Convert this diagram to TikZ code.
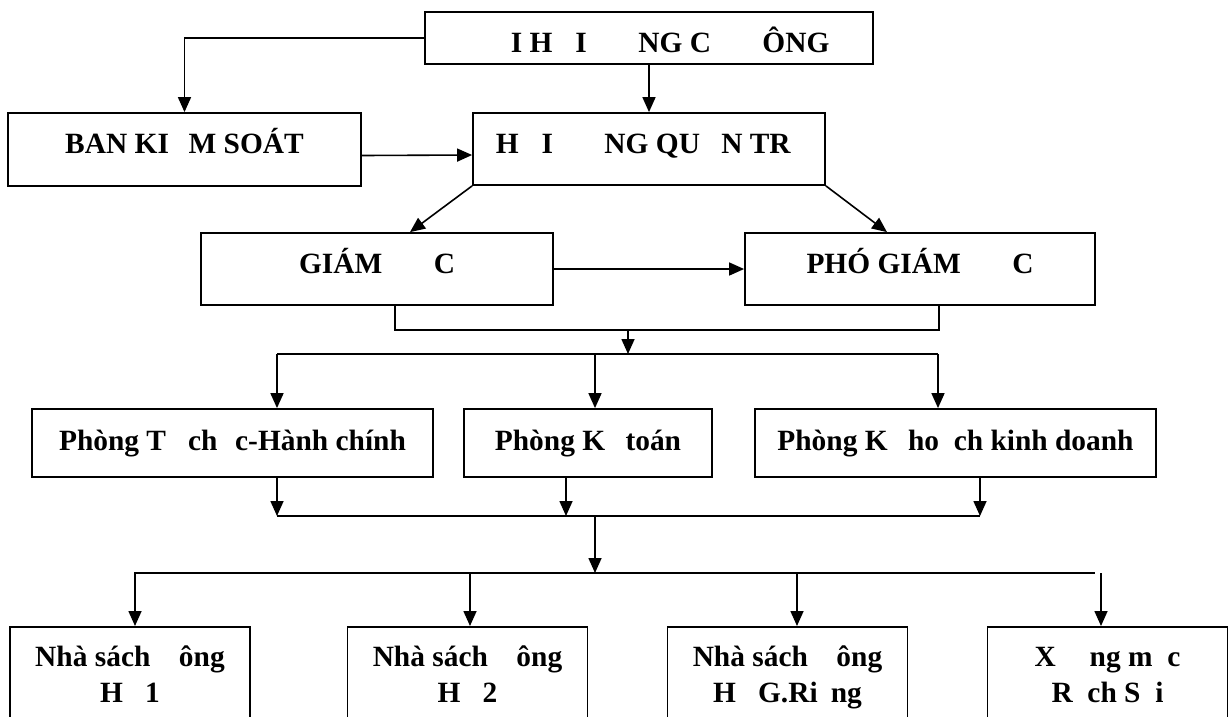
\documentclass[tikz,border=0pt]{standalone}
\usepackage{fontspec}
\setmainfont{Liberation Serif}
\usetikzlibrary{arrows.meta}
\newcommand{\deuxlignes}[2]{\begin{tabular}[t]{@{}c@{}}#1\\#2\end{tabular}}
\begin{document}
\begin{tikzpicture}[x=1pt,y=-1pt]
            \tikzstyle{cadre}=[rectangle,draw,line width=1.8pt,inner sep=2pt,
                font=\bfseries\fontsize{29.4}{36}\selectfont,text height=20pt,text depth=12pt]
            \tikzstyle{bas}=[cadre,anchor=north,inner ysep=20pt,text height=20pt,text depth=80pt,minimum width=240]
            \tikzstyle{fleche}=[-{Triangle[length=15pt,width=13pt]},line width=1.6pt]
            \tikzstyle{bus}=[line width=2.6pt]
            \useasboundingbox (0,0) rectangle (1229,716);
            \node[cadre,minimum width=448,minimum height=52,text height=28pt,text depth=0pt] (dhcd) at (649,38) {\phantom{ĐẠ}I H\phantom{Ộ}I \phantom{ĐỒ}NG C\phantom{Ổ} \phantom{Đ}ÔNG};
            \node[cadre,minimum width=353,minimum height=73] (bks) at (184.5,149.5) {BAN KI\phantom{Ể}M SOÁT};
            \node[cadre,minimum width=352,minimum height=72] (hdqt) at (649,149) {H\phantom{Ộ}I \phantom{ĐỒ}NG QU\phantom{Ả}N TR\phantom{Ị}};
            \node[cadre,minimum width=352,minimum height=72] (gd) at (377,269) {GIÁM \phantom{ĐỐ}C};
            \node[cadre,minimum width=350,minimum height=72] (pgd) at (920,269) {PHÓ GIÁM \phantom{ĐỐ}C};
            \node[cadre,minimum width=401,minimum height=68,text depth=6pt] (tchc) at (232.5,443) {Phòng T\phantom{ổ} ch\phantom{ứ}c-Hành chính};
            \node[cadre,minimum width=248,minimum height=68,text depth=6pt] (kt) at (588,443) {Phòng K\phantom{ế} toán};
            \node[cadre,minimum width=401,minimum height=68,text depth=6pt] (khkd) at (955.5,443) {Phòng K\phantom{ế} ho\phantom{ạ}ch kinh doanh};
            \node[bas] (nsdh1) at (130,626) {\deuxlignes{Nhà sách \phantom{Đ}ông}{H\phantom{ồ} 1}};
            \node[bas] (nsdh2) at (467.5,626) {\deuxlignes{Nhà sách \phantom{Đ}ông}{H\phantom{ồ} 2}};
            \node[bas] (nsdh3) at (787.5,626) {\deuxlignes{Nhà sách \phantom{Đ}ông}{H\phantom{ồ} G.Ri\phantom{ề}ng}};
            \node[bas] (xuong) at (1107.5,626) {\deuxlignes{X\phantom{ưở}ng m\phantom{ộ}c}{R\phantom{ạ}ch S\phantom{ỏ}i}};
            % points des lignes de liaison
            \coordinate (b1) at (628,330);
            \coordinate (b2) at (628,354);
            \coordinate (b2g) at (277,354);
            \coordinate (b2m) at (595,354);
            \coordinate (b2d) at (938,354);
            \coordinate (c3g) at (277,516);
            \coordinate (c3m) at (566,516);
            \coordinate (c3d) at (980,516);
            \coordinate (c3) at (595,516);
            \coordinate (b3) at (595,573);
            \coordinate (b3g) at (134,573);
            \coordinate (b3d) at (1095,573);
            \draw[fleche] (dhcd.west) -| (bks.north);
            \draw[fleche] (dhcd.south) -- (hdqt.north);
            \draw[fleche] ([yshift=-6pt]bks.east) -- ([yshift=-6pt]hdqt.west);
            \draw[fleche] (hdqt.south west) -- ([xshift=33pt]gd.north);
            \draw[fleche] (hdqt.south east) -- ([xshift=-33pt]pgd.north);
            \draw[fleche] (gd.east) -- (pgd.west);
            \draw[bus] ([xshift=18pt]gd.south) |- (b1) -| ([xshift=19pt]pgd.south);
            \draw[fleche] (b1) -- (b2);
            \draw[bus] (b2g) -- (b2d);
            \draw[fleche] (b2g) -- (b2g |- tchc.north);
            \draw[fleche] (b2m) -- (b2m |- kt.north);
            \draw[fleche] (b2d) -- (b2d |- khkd.north);
            \draw[fleche] (c3g |- tchc.south) -- (c3g);
            \draw[fleche] (c3m |- kt.south) -- (c3m);
            \draw[fleche] (c3d |- khkd.south) -- (c3d);
            \draw[bus] (c3g) -- (c3d);
            \draw[fleche] (c3) -- (b3);
            \draw[bus] (b3g) -- (b3d);
            \foreach \x/\n in {135/nsdh1,470/nsdh2,797/nsdh3,1101/xuong}
                \draw[fleche] (\x,573) -- (\x,626);
        \end{tikzpicture}
\end{document}
